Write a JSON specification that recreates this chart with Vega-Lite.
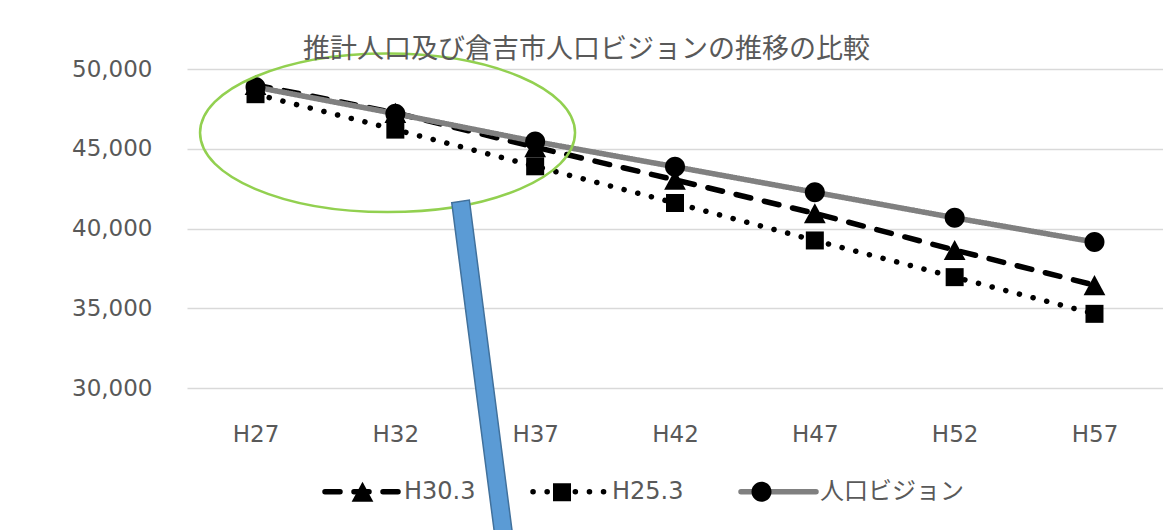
{
  "$schema": "https://vega.github.io/schema/vega-lite/v6.json",
  "width": 976,
  "height": 319,
  "autosize": {"type": "none"},
  "padding": {"left": 187, "top": 69, "right": 0, "bottom": 142},
  "title": {
    "text": "推計人口及び倉吉市人口ビジョンの推移の比較",
    "font": "Noto Sans CJK JP",
    "fontSize": 27,
    "fontWeight": "normal",
    "color": "#595959",
    "anchor": "middle",
    "dx": -88.5,
    "offset": -15
  },
  "data": {
    "values": [
      {"year": "H27", "series": "H30.3", "population": 49000},
      {"year": "H32", "series": "H30.3", "population": 47250},
      {"year": "H37", "series": "H30.3", "population": 45100},
      {"year": "H42", "series": "H30.3", "population": 43050},
      {"year": "H47", "series": "H30.3", "population": 40950},
      {"year": "H52", "series": "H30.3", "population": 38650},
      {"year": "H57", "series": "H30.3", "population": 36450},
      {"year": "H27", "series": "H25.3", "population": 48420},
      {"year": "H32", "series": "H25.3", "population": 46200},
      {"year": "H37", "series": "H25.3", "population": 43900},
      {"year": "H42", "series": "H25.3", "population": 41600},
      {"year": "H47", "series": "H25.3", "population": 39250},
      {"year": "H52", "series": "H25.3", "population": 36950},
      {"year": "H57", "series": "H25.3", "population": 34650},
      {"year": "H27", "series": "人口ビジョン", "population": 48870},
      {"year": "H32", "series": "人口ビジョン", "population": 47200},
      {"year": "H37", "series": "人口ビジョン", "population": 45450},
      {"year": "H42", "series": "人口ビジョン", "population": 43870},
      {"year": "H47", "series": "人口ビジョン", "population": 42270},
      {"year": "H52", "series": "人口ビジョン", "population": 40670},
      {"year": "H57", "series": "人口ビジョン", "population": 39150}
    ]
  },
  "encoding": {
    "x": {
      "field": "year",
      "type": "ordinal",
      "scale": {"type": "point", "padding": 0.49},
      "axis": {
        "title": null,
        "domain": false,
        "ticks": false,
        "grid": false,
        "labelAngle": 0,
        "labelPadding": 35,
        "labelFont": "DejaVu Sans",
        "labelFontSize": 23,
        "labelColor": "#595959"
      }
    },
    "y": {
      "field": "population",
      "type": "quantitative",
      "scale": {"domain": [30000, 50000], "nice": false, "zero": false},
      "axis": {
        "title": null,
        "values": [30000, 35000, 40000, 45000, 50000],
        "format": ",d",
        "grid": true,
        "gridColor": "#D9D9D9",
        "gridWidth": 1.3,
        "domain": false,
        "ticks": false,
        "labelPadding": 35,
        "labelFont": "DejaVu Sans",
        "labelFontSize": 23,
        "labelColor": "#595959"
      }
    }
  },
  "layer": [
    {
      "mark": {"type": "line", "strokeWidth": 5.5, "strokeCap": "round", "strokeJoin": "round"},
      "encoding": {
        "color": {
          "field": "series",
          "type": "nominal",
          "scale": {"domain": ["H30.3", "H25.3", "人口ビジョン"], "range": ["#000000", "#000000", "#808080"]},
          "legend": {
            "orient": "none", "legendX": 135, "legendY": 382, "direction": "horizontal", "columns": 3,
            "columnPadding": 46, "padding": 0, "title": null, "symbolType": "stroke", "symbolSize": 5625,
            "symbolStrokeWidth": 5.5, "labelFont": "DejaVu Sans, Noto Sans CJK JP", "labelFontSize": 24,
            "labelColor": "#595959", "labelOffset": 1, "labelLimit": 400,
            "values": ["H30.3", "H25.3", "人口ビジョン"],
            "encode": {"symbols": {"update": {"strokeCap": {"value": "round"}}}}
          }
        },
        "strokeDash": {
          "field": "series",
          "type": "nominal",
          "scale": {"domain": ["H30.3", "H25.3", "人口ビジョン"], "range": [[15, 14], [0.1, 14], [1, 0]]},
          "legend": {
            "orient": "none", "legendX": 135, "legendY": 382, "direction": "horizontal", "columns": 3,
            "columnPadding": 46, "padding": 0, "title": null, "symbolType": "stroke", "symbolSize": 5625,
            "symbolStrokeWidth": 5.5, "labelFont": "DejaVu Sans, Noto Sans CJK JP", "labelFontSize": 24,
            "labelColor": "#595959", "labelOffset": 1, "labelLimit": 400,
            "values": ["H30.3", "H25.3", "人口ビジョン"],
            "encode": {"symbols": {"update": {"strokeCap": {"value": "round"}}}}
          }
        }
      }
    },
    {
      "mark": {"type": "point", "filled": true, "color": "#000000", "size": 5625, "opacity": 1, "strokeWidth": 0},
      "encoding": {
        "shape": {
          "field": "series",
          "type": "nominal",
          "scale": {
            "domain": ["人口ビジョン", "H30.3", "H25.3"],
            "range": [
              "M 0.267,0 C 0.267,0.1474 0.1474,0.267 0,0.267 C -0.1474,0.267 -0.267,0.1474 -0.267,0 C -0.267,-0.1474 -0.1474,-0.267 0,-0.267 C 0.1474,-0.267 0.267,-0.1474 0.267,0 Z",
              "M 0,-0.267 L 0.29,0.267 L -0.29,0.267 Z",
              "M -0.24,-0.24 L 0.24,-0.24 L 0.24,0.24 L -0.24,0.24 Z"
            ]
          },
          "legend": {
            "orient": "none", "legendX": 135, "legendY": 382, "direction": "horizontal", "columns": 3,
            "columnPadding": 117.5, "padding": 0, "title": null, "symbolSize": 5625,
            "symbolStrokeWidth": 5.5, "labelFont": "DejaVu Sans", "labelFontSize": 24,
            "labelOffset": 1, "labelExpr": "''",
            "values": ["H30.3", "H25.3", "人口ビジョン"],
            "encode": {"symbols": {"update": {"fill": {"value": "#000000"}, "stroke": {"value": "transparent"}, "opacity": {"value": 1}}}}
          }
        }
      }
    },
    {
      "data": {"values": [{"year": "H32", "population": 46000}]},
      "mark": {
        "type": "point",
        "shape": "M 179.7,0 C 179.7,43.8 95.75,79.3 -7.8,79.3 C -111.35,79.3 -195.3,43.8 -195.3,0 C -195.3,-43.8 -111.35,-79.3 -7.8,-79.3 C 95.75,-79.3 179.7,-43.8 179.7,0 Z",
        "size": 4,
        "filled": false,
        "stroke": "#92D050",
        "strokeWidth": 2.5,
        "opacity": 1
      }
    },
    {
      "data": {"values": [{"year": "H32", "population": 46000}]},
      "mark": {
        "type": "point",
        "shape": "M 56.4,69.9 L 74,67.2 L 120.5,427.2 L 102.6,427.2 Z",
        "size": 4,
        "filled": true,
        "fill": "#5B9BD5",
        "stroke": "#41719C",
        "strokeWidth": 1.5,
        "opacity": 1
      }
    }
  ],
  "config": {
    "view": {"stroke": null},
    "font": "DejaVu Sans"
  }
}
